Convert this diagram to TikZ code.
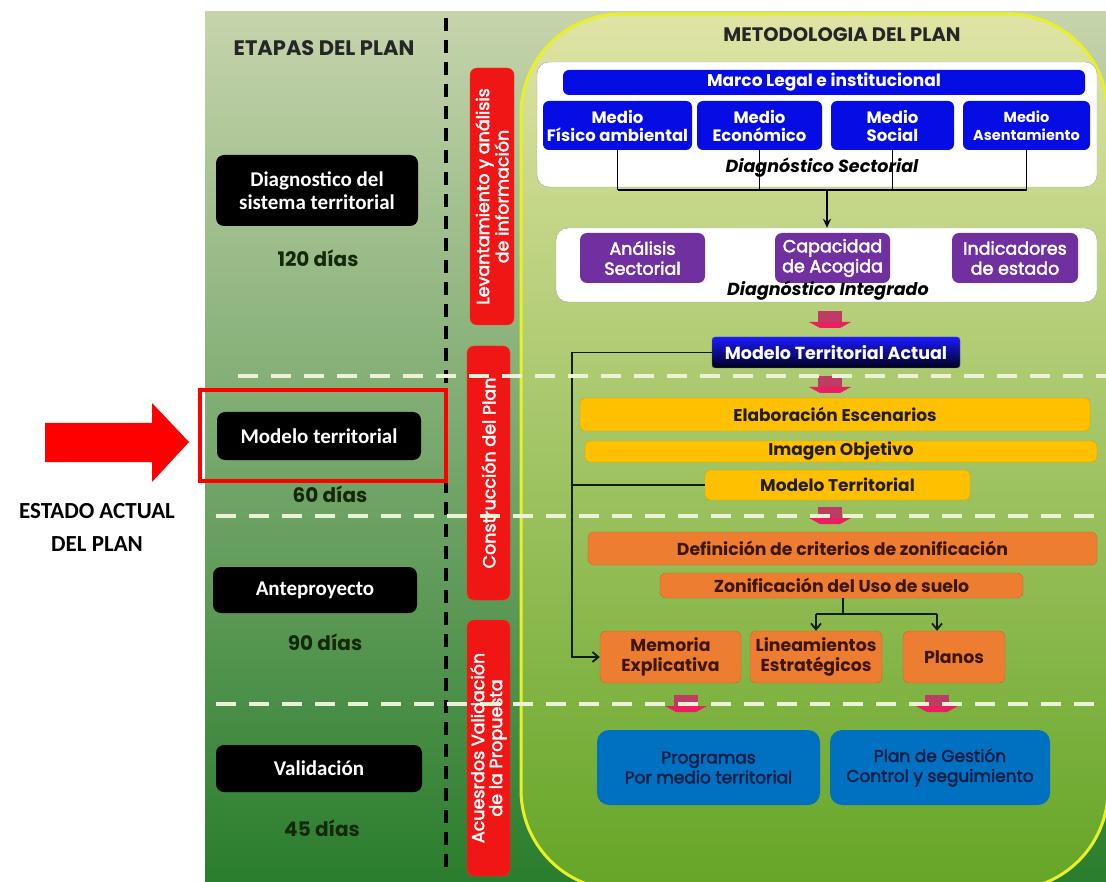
\documentclass[tikz,border=0pt]{standalone}
\usepackage{fontspec}
\setmainfont{Poppins}
\newfontfamily\popm[FakeBold=2.5]{Poppins}
\newfontfamily\calfont{Carlito}
\usetikzlibrary{arrows.meta}
\definecolor{leftTop}{RGB}{198,212,172}
\definecolor{leftMid}{RGB}{118,163,88}
\definecolor{leftBot}{RGB}{42,125,45}
\definecolor{regTop}{RGB}{224,228,165}
\definecolor{regMid}{RGB}{150,192,55}
\definecolor{regBot}{RGB}{100,165,38}
\definecolor{yline}{RGB}{232,240,40}
\definecolor{barred}{RGB}{240,22,22}
\definecolor{mblue}{RGB}{5,12,228}
\definecolor{mpurple}{RGB}{112,48,160}
\definecolor{myellow}{RGB}{255,192,0}
\definecolor{morange}{RGB}{237,125,49}
\definecolor{mblue2}{RGB}{0,112,192}
\definecolor{darktxt}{RGB}{35,30,10}
\definecolor{orgtxt}{RGB}{60,22,0}
\definecolor{navytxt}{RGB}{20,30,70}
\definecolor{daysc}{RGB}{20,40,10}
\definecolor{shaftc}{RGB}{190,60,100}
\definecolor{headc}{RGB}{235,30,95}
\definecolor{dashw}{RGB}{236,242,214}
\definecolor{linec}{RGB}{15,30,15}
\newcommand\pinkarr[1]{\begin{scope}[shift={#1}]
\fill[shaftc] (-12,-9) rectangle (12,3);
\fill[headc] (-21,2) -- (21,2) -- (10,8) -- (-10,8) -- cycle;
\end{scope}}
\tikzset{
 blk/.style={fill=black, rounded corners=8, text=white, inner sep=0, align=center,
   font=\calfont\bfseries\fontsize{21}{23}\selectfont},
 days/.style={text=daysc, font=\bfseries\fontsize{20}{22}\selectfont},
 redbar/.style={fill=barred, draw=barred!70!orange, rounded corners=7, text=white, inner sep=0,
   align=center, rotate=90, font=\popm\fontsize{17.5}{18}\selectfont},
 wbox/.style={fill=white, draw=gray!70, rounded corners=12, inner sep=0},
 bbox/.style={fill=mblue, rounded corners=6, text=white, inner sep=0, align=center,
   font=\bfseries\fontsize{16.5}{18}\selectfont},
 pbox/.style={fill=mpurple, rounded corners=7, text=white, inner sep=0, align=center,
   font=\popm\fontsize{17.5}{20}\selectfont},
 ybox/.style={fill=myellow, draw=myellow!85!black, rounded corners=5, text=darktxt, inner sep=0,
   font=\bfseries\fontsize{17}{18}\selectfont},
 obox/.style={fill=morange, draw=morange!85!black, rounded corners=6, text=orgtxt, inner sep=0,
   align=center, font=\bfseries\fontsize{17.3}{20}\selectfont},
 lbox/.style={fill=mblue2, rounded corners=12, text=navytxt, inner sep=0, align=center,
   font=\popm\fontsize{17}{20}\selectfont},
 conn/.style={draw=black, line width=1.8pt},
 gconn/.style={draw=linec, line width=1.8pt},
 wdash/.style={draw=dashw, line width=4pt, dash pattern=on 20pt off 13pt},
}
\begin{document}
\begin{tikzpicture}[x=1pt,y=-1pt]
\useasboundingbox (0,0) rectangle (1106,882);
\fill[white] (0,0) rectangle (1106,882);
% left panel background
\shade[top color=leftTop, middle color=leftMid, bottom color=leftBot] (205,12) rectangle (1106,882);
% methodology region
\begin{scope}
\clip (205,12) rectangle (1106,882);
\shadedraw[top color=regTop, middle color=regMid, bottom color=regBot, draw=yline, line width=3pt, rounded corners=100] (521,14) rectangle (1108,890);
\end{scope}
% titles
\node[text=black!85, font=\bfseries\fontsize{21}{24}\selectfont] (etapas) at (324,48) {ETAPAS DEL PLAN};
\node[text=black!85, font=\bfseries\fontsize{19.5}{24}\selectfont] (metod) at (842,35) {METODOLOGIA DEL PLAN};
% vertical black dashed line
\coordinate (vtop) at (446,18);
\coordinate (vbot) at (446,870);
\draw[line width=4pt, dash pattern=on 13pt off 9pt] (vtop) -- (vbot);
% stages
\node[blk, minimum width=202, minimum height=71] (s1) at (317,190.5) {Diagnostico del\\sistema territorial};
\node[days] (d1) at (318,258) {120 días};
\node[blk, minimum width=204, minimum height=48] (s2) at (319,436) {Modelo territorial};
\node[days] (d2) at (330,494) {60 días};
\node[blk, minimum width=204, minimum height=46] (s3) at (315,590) {Anteproyecto};
\node[days] (d3) at (325,642) {90 días};
\node[blk, minimum width=206, minimum height=47] (s4) at (319,768.5) {Validación};
\node[days] (d4) at (322,828) {45 días};
% highlight and arrow
\node[draw=red, line width=4pt, minimum width=246, minimum height=90, inner sep=0] (hl) at (323,435.5) {};
\fill[red] (45,423) -- (152,423) -- (152,403) -- (189,442) -- (152,482) -- (152,462) -- (45,462) -- cycle;
\node[font=\calfont\bfseries\fontsize{23}{33}\selectfont, align=center] (estado) at (97,527) {ESTADO ACTUAL\\DEL PLAN};
% red bars
\node[redbar, minimum width=257, minimum height=44] (r1) at (492,196.5) {Levantamiento y análisis\\de información};
\node[redbar, minimum width=254, minimum height=43] (r2) at (488.5,473) {Construcción del Plan};
\node[redbar, minimum width=256, minimum height=43] (r3) at (488.5,748) {Acuesrdos Validación\\de la Propuesta};
% diagnostico sectorial
\node[wbox, minimum width=560, minimum height=125] (wb1) at (817,124.5) {};
\node[bbox, minimum width=522, minimum height=25, font=\bfseries\fontsize{17}{18}\selectfont] (marco) at (824,82.5) {Marco Legal e institucional};
\node[bbox, minimum width=149, minimum height=49] (m1) at (617.5,125.5) {Medio\\Físico ambiental};
\node[bbox, minimum width=125, minimum height=49] (m2) at (759.5,125.5) {Medio\\Económico};
\node[bbox, minimum width=123, minimum height=49] (m3) at (892.5,125.5) {Medio\\Social};
\node[bbox, minimum width=127, minimum height=49, font=\bfseries\fontsize{14.5}{18}\selectfont] (m4) at (1026.5,125.5) {Medio\\Asentamiento};
\node[font=\bfseries\itshape\fontsize{17.5}{19}\selectfont] (dsec) at (822,168) {Diagnóstico Sectorial};
\coordinate (bus) at (827,190);
\draw[conn] (m1.south) -- (m1.south |- bus);
\draw[conn] (m2.south) -- (m2.south |- bus);
\draw[conn] (m3.south) -- (m3.south |- bus);
\draw[conn] (m4.south) -- (m4.south |- bus);
\draw[conn] (m1.south |- bus) -- (m4.south |- bus);
% diagnostico integrado
\node[wbox, minimum width=541, minimum height=74] (wb2) at (826.5,265) {};
\draw[conn, -{Stealth[length=9pt,width=8pt]}] (bus) -- (wb2.north -| bus);
\node[pbox, minimum width=125, minimum height=50] (a1) at (642.5,258) {Análisis\\Sectorial};
\node[pbox, minimum width=115, minimum height=50] (a2) at (832.5,258) {Capacidad\\de Acogida};
\node[pbox, minimum width=126, minimum height=50] (a3) at (1015,258) {Indicadores\\de estado};
\node[font=\bfseries\itshape\fontsize{17.5}{19}\selectfont] (dint) at (828,291) {Diagnóstico Integrado};
% modelo territorial actual
\node[top color=blue!90!white, bottom color=black!90!blue, draw=black!60, rounded corners=3, text=white, inner sep=0, minimum width=248, minimum height=31, font=\bfseries\fontsize{17.5}{19}\selectfont] (mta) at (836,352.5) {Modelo Territorial Actual};
% construction
\node[ybox, minimum width=510, minimum height=33] (elab) at (835,414.5) {Elaboración Escenarios};
\node[ybox, minimum width=512, minimum height=21] (img) at (841,451.5) {Imagen Objetivo};
\node[ybox, minimum width=265, minimum height=30] (mt) at (837.5,485) {Modelo Territorial};
\node[obox, minimum width=509, minimum height=33] (def) at (842.5,548.5) {Definición de criterios de zonificación};
\node[obox, minimum width=363, minimum height=25] (zon) at (841.5,585.5) {Zonificación del Uso de suelo};
\node[obox, minimum width=141, minimum height=52] (mem) at (670.5,657) {Memoria\\Explicativa};
\node[obox, minimum width=132, minimum height=52] (lin) at (816,657) {Lineamientos\\Estratégicos};
\node[obox, minimum width=102, minimum height=52] (pla) at (954,657) {Planos};
% zonificacion connectors
\coordinate (zsplit) at (843,614);
\coordinate (zr) at (937,614);
\draw[gconn] (zon.south -| zsplit) -- (zsplit);
\draw[gconn] (zsplit -| lin.north) -- (zr);
\draw[gconn, -{Straight Barb[length=6pt,width=10pt]}] (zsplit -| lin.north) -- (lin.north);
\draw[gconn, -{Straight Barb[length=6pt,width=10pt]}] (zr) -- (zr |- pla.north);
% left loop connector
\coordinate (lc) at (572,352.5);
\draw[gconn] (mta.west) -- (lc);
\draw[gconn, -{Straight Barb[length=6pt,width=10pt]}] (lc) |- (mem.west);
\draw[gconn] (mt.west) -- (mt.west -| lc);
% bottom boxes
\node[lbox, minimum width=223, minimum height=75] (prog) at (708.5,767.5) {Programas\\Por medio territorial};
\node[lbox, minimum width=220, minimum height=75] (gest) at (940,767.5) {Plan de Gestión\\Control y seguimiento};
% pink arrows
\pinkarr{(830,320)}
\pinkarr{(830,385)}
\pinkarr{(830,516)}
\pinkarr{(686,704)}
\pinkarr{(937,704)}
% white dashed lines
\coordinate (h1a) at (238,376); \coordinate (h1b) at (1106,376);
\coordinate (h2a) at (216,516); \coordinate (h2b) at (1106,516);
\coordinate (h3a) at (216,704); \coordinate (h3b) at (1106,704);
\draw[wdash] (h1a) -- (h1b);
\draw[wdash] (h2a) -- (h2b);
\draw[wdash] (h3a) -- (h3b);
\end{tikzpicture}
\end{document}
